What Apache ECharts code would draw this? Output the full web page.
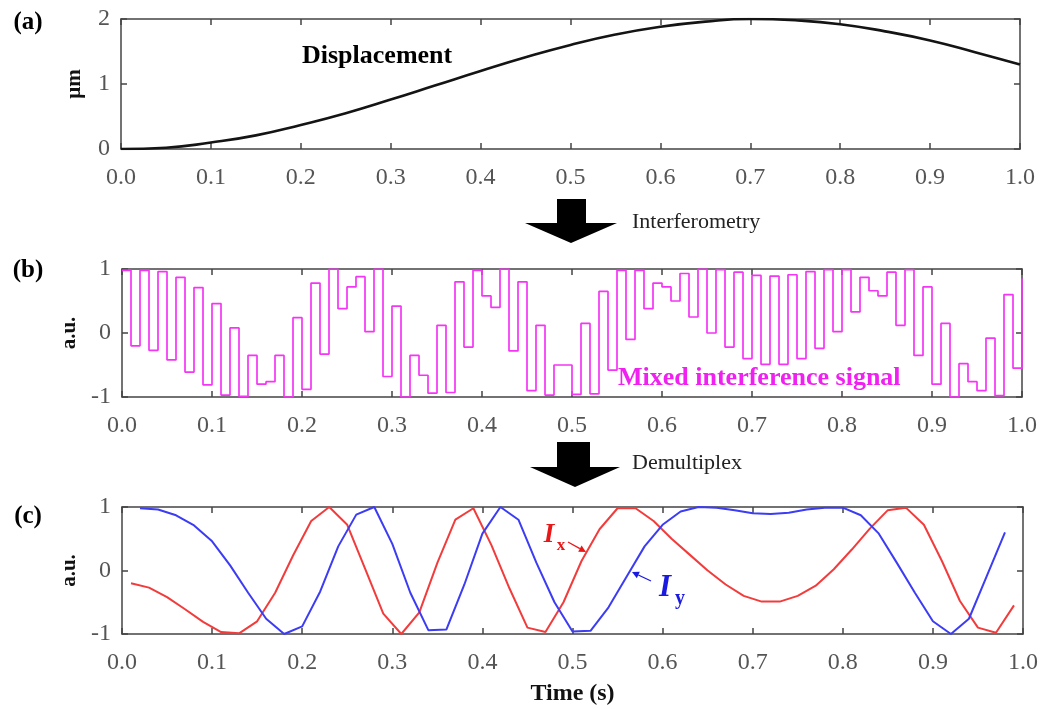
<!DOCTYPE html>
<html>
<head>
<meta charset="utf-8">
<script src="https://cdn.jsdelivr.net/npm/echarts@6.0.0/dist/echarts.min.js"></script>
<style>
  html, body { margin: 0; background: #fff; }
  #main { width: 1046px; height: 709px; }
</style>
</head>
<body>
<div id="main"></div>
<script>
// (a) displacement, um, sampled every 0.05 s
const dispTime = [0, 0.05, 0.1, 0.15, 0.2, 0.25, 0.3, 0.35, 0.4, 0.45, 0.5,
                  0.55, 0.6, 0.65, 0.7, 0.75, 0.8, 0.85, 0.9, 0.95, 1.0];
const displacement = [0, 0.02, 0.10, 0.21, 0.37, 0.55, 0.76, 0.98, 1.20, 1.41, 1.60,
                      1.76, 1.88, 1.96, 2.00, 1.98, 1.92, 1.81, 1.67, 1.49, 1.30];

// (c) demultiplexed signals, Ix at 0.01, 0.03 ... 0.99 and Iy at 0.02, 0.04 ... 0.98
const ixStart = 0.01;
const iyStart = 0.02;
const sampleStep = 0.02;
const ix = [-0.20, -0.27, -0.42, -0.61, -0.81, -0.97, -0.99, -0.80, -0.35, 0.24,
            0.78, 1.00, 0.72, 0.02, -0.68, -1.00, -0.66, 0.12, 0.80, 0.98,
            0.40, -0.28, -0.90, -0.97, -0.50, 0.15, 0.65, 0.98, 0.98, 0.78,
            0.50, 0.25, 0.00, -0.22, -0.40, -0.49, -0.49, -0.40, -0.24, 0.02,
            0.33, 0.66, 0.95, 0.99, 0.72, 0.15, -0.48, -0.90, -0.98, -0.55];
const iy = [0.98, 0.96, 0.87, 0.71, 0.46, 0.08, -0.35, -0.76, -1.00, -0.88,
            -0.33, 0.38, 0.88, 1.00, 0.42, -0.35, -0.94, -0.93, -0.22, 0.58,
            1.00, 0.80, 0.12, -0.50, -0.96, -0.95, -0.58, -0.10, 0.38, 0.72,
            0.93, 1.00, 0.99, 0.95, 0.90, 0.89, 0.91, 0.96, 0.99, 0.99,
            0.87, 0.58, 0.12, -0.35, -0.80, -1.00, -0.76, -0.08, 0.60];

// (b) mixed interference signal, one value every 0.01 s from 0.00 to 1.00
const mixStep = 0.01;
const mixed = [
  0.98, -0.20, 0.98, -0.27, 0.96, -0.42, 0.87, -0.61, 0.71, -0.81,
  0.46, -0.97, 0.08, -0.99, -0.35, -0.80, -0.76, -0.35, -1.00, 0.24,
  -0.88, 0.78, -0.33, 1.00, 0.38, 0.72, 0.88, 0.02, 1.00, -0.68,
  0.42, -1.00, -0.35, -0.66, -0.94, 0.12, -0.93, 0.80, -0.22, 0.98,
  0.58, 0.40, 1.00, -0.28, 0.80, -0.90, 0.12, -0.97, -0.50, -0.50,
  -0.96, 0.15, -0.95, 0.65, -0.58, 0.98, -0.10, 0.98, 0.38, 0.78,
  0.72, 0.50, 0.93, 0.25, 1.00, 0.00, 0.99, -0.22, 0.95, -0.40,
  0.90, -0.49, 0.89, -0.49, 0.91, -0.40, 0.96, -0.24, 0.99, 0.02,
  0.99, 0.33, 0.87, 0.66, 0.58, 0.95, 0.12, 0.99, -0.35, 0.72,
  -0.80, 0.15, -1.00, -0.48, -0.76, -0.90, -0.08, -0.98, 0.60, -0.55,
  0.85
];

const serif = "'Liberation Serif', 'Times New Roman', serif";
const frame = '#444';

const chart = echarts.init(document.getElementById('main'));

function xAxes(g, name) {
  const common = {
    type: 'value', gridIndex: g, min: 0, max: 1, interval: 0.1,
    axisLine: { show: true, onZero: false, lineStyle: { color: frame, width: 1.5 } },
    axisTick: { show: true, inside: true, length: 6, lineStyle: { color: frame, width: 1.5 } },
    splitLine: { show: false }
  };
  return [
    Object.assign({}, common, {
      position: 'bottom',
      axisLabel: { margin: 17, fontFamily: serif, fontSize: 24, color: '#555',
                   formatter: v => v.toFixed(1) },
      name: name || '', nameLocation: 'middle', nameGap: 48,
      nameTextStyle: { fontFamily: serif, fontSize: 24, fontWeight: 'bold', color: '#111' }
    }),
    Object.assign({}, common, { position: 'top', axisLabel: { show: false } })
  ];
}

function yAxes(g, min, max, name, gap) {
  const common = {
    type: 'value', gridIndex: g, min: min, max: max, interval: 1,
    axisLine: { show: true, onZero: false, lineStyle: { color: frame, width: 1.5 } },
    axisTick: { show: true, inside: true, length: 6, lineStyle: { color: frame, width: 1.5 } },
    splitLine: { show: false }
  };
  return [
    Object.assign({}, common, {
      position: 'left',
      axisLabel: { margin: 11, fontFamily: serif, fontSize: 24, color: '#555' },
      name: name, nameLocation: 'middle', nameRotate: 90, nameGap: gap,
      nameTextStyle: { fontFamily: serif, fontSize: 21, fontWeight: 'bold', color: '#111' }
    }),
    Object.assign({}, common, { position: 'right', axisLabel: { show: false } })
  ];
}

function arrow(x1, y1, x2, y2, color, len, half) {
  const a = Math.atan2(y2 - y1, x2 - x1);
  const bx = x2 - len * Math.cos(a), by = y2 - len * Math.sin(a);
  return [
    { type: 'line', shape: { x1: x1, y1: y1, x2: bx, y2: by },
      style: { stroke: color, lineWidth: 1.3 }, z: 100 },
    { type: 'polygon', z: 100,
      shape: { points: [[x2, y2],
                        [bx + half * Math.sin(a), by - half * Math.cos(a)],
                        [bx - half * Math.sin(a), by + half * Math.cos(a)]] },
      style: { fill: color } }
  ];
}

function text(x, y, str, font, fill, align) {
  return { type: 'text', x: x, y: y, z: 100,
           style: { text: str, font: font, fill: fill,
                    align: align || 'center', verticalAlign: 'middle' } };
}

const option = {
  backgroundColor: '#fff',
  animation: false,
  grid: [
    { left: 121, top: 19, width: 899, height: 130 },
    { left: 122, top: 269, width: 900, height: 128 },
    { left: 122, top: 507, width: 901, height: 127 }
  ],
  xAxis: [].concat(xAxes(0), xAxes(1), xAxes(2, 'Time (s)')),
  yAxis: [].concat(yAxes(0, 0, 2, 'μm', 36), yAxes(1, -1, 1, 'a.u.', 30), yAxes(2, -1, 1, 'a.u.', 30)),
  series: [
    {
      name: 'Displacement', type: 'line', xAxisIndex: 0, yAxisIndex: 0,
      smooth: true, showSymbol: false,
      lineStyle: { color: '#141414', width: 2.6 },
      data: dispTime.map((t, i) => [t, displacement[i]])
    },
    {
      name: 'Mixed interference signal', type: 'line', xAxisIndex: 2, yAxisIndex: 2,
      step: 'end', showSymbol: false,
      lineStyle: { color: '#f535f5', width: 1.7 },
      data: mixed.map((v, i) => [i * mixStep, v])
    },
    {
      name: 'Ix', type: 'line', xAxisIndex: 4, yAxisIndex: 4,
      showSymbol: false,
      lineStyle: { color: '#f23c3c', width: 2 },
      data: ix.map((v, i) => [ixStart + i * sampleStep, v])
    },
    {
      name: 'Iy', type: 'line', xAxisIndex: 4, yAxisIndex: 4,
      showSymbol: false,
      lineStyle: { color: '#3c3cf5', width: 2 },
      data: iy.map((v, i) => [iyStart + i * sampleStep, v])
    }
  ],
  graphic: [
    text(28, 23, '(a)', 'bold 25px ' + serif, '#000'),
    text(28, 271, '(b)', 'bold 25px ' + serif, '#000'),
    text(28, 517, '(c)', 'bold 25px ' + serif, '#000'),
    text(302, 56, 'Displacement', 'bold 26px ' + serif, '#000', 'left'),
    text(618, 378, 'Mixed interference signal', 'bold 26px ' + serif, '#f020f0', 'left'),
    { type: 'polygon', z: 100,
      shape: { points: [[557, 199], [586, 199], [586, 223], [617, 223], [571, 243], [525, 223], [557, 223]] },
      style: { fill: '#000' } },
    text(632, 222, 'Interferometry', '22px ' + serif, '#222', 'left'),
    { type: 'polygon', z: 100,
      shape: { points: [[557, 442], [590, 442], [590, 467], [620, 467], [575, 487], [530, 467], [557, 467]] },
      style: { fill: '#000' } },
    text(632, 463, 'Demultiplex', '22px ' + serif, '#222', 'left'),
    text(549, 535, 'I', 'italic bold 27px ' + serif, '#e81818'),
    text(561, 546, 'x', 'bold 17px ' + serif, '#e81818'),
    text(665, 588, 'I', 'italic bold 31px ' + serif, '#1a1ae0'),
    text(680, 599, 'y', 'bold 20px ' + serif, '#1a1ae0')
  ].concat(arrow(568, 542, 586, 552, '#e81818', 7, 3.5),
           arrow(651, 581, 632, 572, '#1a1ae0', 7, 3.5))
};

chart.setOption(option);
</script>
</body>
</html>
